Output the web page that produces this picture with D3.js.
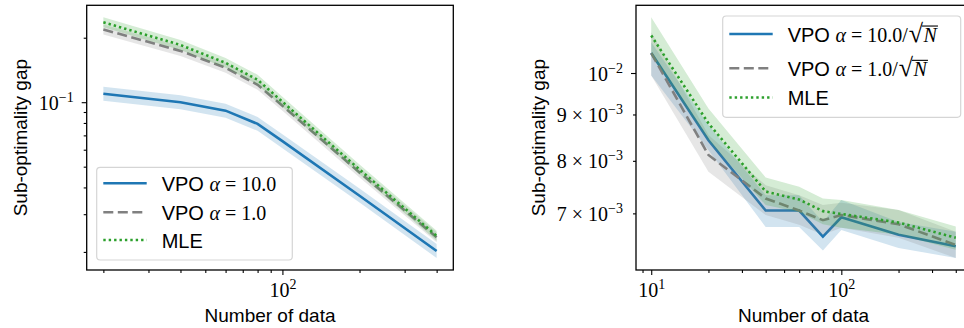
<!DOCTYPE html>
<html>
<head>
<meta charset="utf-8">
<script src="https://cdn.jsdelivr.net/npm/d3@7"></script>
<style>
  body { margin: 0; background: #fff; }
  svg { display: block; }
</style>
</head>
<body>
<svg id="chart" width="964" height="328"></svg>
<script>
// ---- data ----
// left panel: fixed alpha
var nLeft = [20, 40, 60, 80, 100, 200, 400];
var vpo10L = [0.1095, 0.100, 0.0913, 0.0792, 0.0658, 0.0366, 0.0202];
var vpo10L_lo = [0.1016, 0.0928, 0.0847, 0.0735, 0.0610, 0.0340, 0.01874];
var vpo10L_hi = [0.1180, 0.1078, 0.0984, 0.0854, 0.0709, 0.0395, 0.0218];
var vpo1L = [0.2185, 0.1736, 0.1447, 0.1206, 0.0963, 0.0470, 0.0234];
var vpo1L_lo = [0.2071, 0.1645, 0.1372, 0.1143, 0.0913, 0.0445, 0.0222];
var vpo1L_hi = [0.2305, 0.1832, 0.1527, 0.1272, 0.1016, 0.0496, 0.0247];
var mleL = [0.236, 0.185, 0.1527, 0.1273, 0.1005, 0.0485, 0.02377];
var mleL_lo = [0.2237, 0.1754, 0.1447, 0.1207, 0.0953, 0.0460, 0.02253];
var mleL_hi = [0.249, 0.195, 0.161, 0.1343, 0.106, 0.0512, 0.0251];

// right panel: alpha scaled by 1/sqrt(N)
var nRight = [10, 20, 40, 60, 80, 100, 200, 400];
var vpo10R = [0.01052, 0.00843, 0.00705, 0.00705, 0.00660, 0.00693, 0.00663, 0.00644];
var vpo10R_lo = [0.00994, 0.00822, 0.00676, 0.00676, 0.00637, 0.00671, 0.00641, 0.00625];
var vpo10R_hi = [0.01081, 0.00876, 0.00733, 0.00733, 0.00685, 0.00724, 0.00685, 0.00668];
var vpo1R = [0.01052, 0.00812, 0.00727, 0.00705, 0.00688, 0.00697, 0.00681, 0.00646];
var vpo1R_lo = [0.00994, 0.00778, 0.00697, 0.00680, 0.00663, 0.00675, 0.00658, 0.00625];
var vpo1R_hi = [0.01109, 0.00854, 0.00752, 0.00733, 0.00715, 0.00719, 0.00706, 0.00668];
var mleR = [0.0110, 0.00880, 0.00740, 0.00725, 0.00704, 0.00699, 0.00684, 0.00658];
var mleR_lo = [0.01046, 0.00843, 0.00715, 0.00702, 0.00681, 0.00675, 0.00663, 0.00638];
var mleR_hi = [0.01152, 0.00914, 0.00767, 0.00749, 0.00727, 0.00724, 0.00706, 0.00677];

var xLabel = "Number of data";
var yLabel = "Sub-optimality gap";

var BLUE = "#1f77b4", GRAY = "#808080", GREEN = "#2ca02c";
var SANS = "Liberation Sans, Arial, sans-serif";
var SERIF = "Liberation Serif, Times New Roman, serif";

var svg = d3.select("#chart");

// matplotlib style 5% margin in log space
function logPad(lo, hi) {
    var a = Math.log10(lo), b = Math.log10(hi), p = (b - a) * 0.05;
    return [Math.pow(10, a - p), Math.pow(10, b + p)];
}

function logTicks(dom) {
    var out = [];
    for (var d = Math.floor(Math.log10(dom[0])); d <= Math.ceil(Math.log10(dom[1])); d++)
        for (var k = 1; k < 10; k++) {
            var v = +(k * Math.pow(10, d)).toPrecision(6);
            if (v >= dom[0] && v <= dom[1]) out.push({ v: v, k: k, d: d });
        }
    return out;
}

function sup(d) { return (d < 0 ? "\u2212" : "") + Math.abs(d); }

// "10^d" or "k x 10^d" as tspans
function powLabel(text, t, withK) {
    text.text(null);
    text.append("tspan").text((withK ? t.k + " \u00d7 " : "") + "10");
    text.append("tspan").attr("font-size", 14).attr("dy", -8).text(sup(t.d));
}

function dashFor(s) { return s === "dash" ? "10,4.5" : s === "dot" ? "2.4,3" : null; }

function drawPanel(cfg) {
    var g = svg.append("g");
    var xDom = logPad(d3.min(cfg.n), d3.max(cfg.n));
    var yDom = logPad(d3.min(cfg.series, function (s) { return d3.min(s.lo); }),
                      d3.max(cfg.series, function (s) { return d3.max(s.hi); }));
    var x = d3.scaleLog().domain(xDom).range([cfg.x0, cfg.x1]);
    var y = d3.scaleLog().domain(yDom).range([cfg.y1, cfg.y0]);

    var line = d3.line()
        .x(function (d) { return x(d[0]); })
        .y(function (d) { return y(d[1]); });
    var area = d3.area()
        .x(function (d) { return x(d[0]); })
        .y0(function (d) { return y(d[1]); })
        .y1(function (d) { return y(d[2]); });

    cfg.series.forEach(function (s) {
        var pts = cfg.n.map(function (v, i) { return [v, s.mean[i]]; });
        var band = cfg.n.map(function (v, i) { return [v, s.lo[i], s.hi[i]]; });
        g.append("path")
            .attr("d", line(pts))
            .attr("fill", "none")
            .attr("stroke", s.color)
            .attr("stroke-width", 2.6)
            .attr("stroke-dasharray", dashFor(s.style));
        g.append("path")
            .attr("d", area(band))
            .attr("fill", s.color)
            .attr("fill-opacity", 0.2)
            .attr("stroke", "none");
    });

    // x ticks
    var xt = logTicks(xDom);
    var xMaj = xt.filter(function (t) { return t.k === 1; });
    var xMin = xt.filter(function (t) { return t.k !== 1; });
    g.append("g").attr("transform", "translate(0," + cfg.y1 + ")")
        .call(d3.axisBottom(x).tickValues(xMin.map(function (t) { return t.v; })).tickSize(3).tickFormat(""))
        .call(function (a) { a.select(".domain").remove(); });
    var gxa = g.append("g").attr("transform", "translate(0," + cfg.y1 + ")")
        .call(d3.axisBottom(x).tickValues(xMaj.map(function (t) { return t.v; })).tickSize(5).tickFormat(""));
    gxa.select(".domain").remove();
    gxa.selectAll(".tick text").data(xMaj)
        .attr("y", 27.3).attr("dy", null)
        .attr("font-family", SERIF).attr("font-size", 20).attr("fill", "#000")
        .each(function (t) { powLabel(d3.select(this), t, false); });

    // y ticks
    var yt = logTicks(yDom);
    var yMaj = yt.filter(function (t) { return t.k === 1; });
    var yMin = yt.filter(function (t) { return t.k !== 1; });
    var gy = g.append("g").attr("transform", "translate(" + cfg.x0 + ",0)");
    var gyMin = gy.append("g")
        .call(d3.axisLeft(y).tickValues(yMin.map(function (t) { return t.v; })).tickSize(3).tickFormat(""));
    gyMin.select(".domain").remove();
    if (cfg.minorLabels) {
        gyMin.selectAll(".tick text").data(yMin)
            .attr("x", -13).attr("y", 7).attr("dy", null)
            .attr("font-family", SERIF).attr("font-size", 20).attr("fill", "#000")
            .each(function (t) { powLabel(d3.select(this), t, true); });
    }
    var gyMaj = gy.append("g")
        .call(d3.axisLeft(y).tickValues(yMaj.map(function (t) { return t.v; })).tickSize(5).tickFormat(""));
    gyMaj.select(".domain").remove();
    gyMaj.selectAll(".tick text").data(yMaj)
        .attr("x", -13).attr("y", 7).attr("dy", null)
        .attr("font-family", SERIF).attr("font-size", 20).attr("fill", "#000")
        .each(function (t) { powLabel(d3.select(this), t, false); });
    g.selectAll(".tick line").attr("stroke", "#000").attr("stroke-width", 1.1);

    // spines
    g.append("rect")
        .attr("x", cfg.x0).attr("y", cfg.y0)
        .attr("width", cfg.x1 - cfg.x0).attr("height", cfg.y1 - cfg.y0)
        .attr("fill", "none").attr("stroke", "#000").attr("stroke-width", 1.3);

    // axis labels
    g.append("text")
        .attr("x", (cfg.x0 + cfg.x1) / 2).attr("y", 321.5)
        .attr("text-anchor", "middle")
        .attr("font-family", SANS).attr("font-size", 19)
        .text(xLabel);
    var bb = gy.node().getBBox();
    g.append("text")
        .attr("transform", "translate(" + (cfg.x0 + bb.x - 12) + "," + ((cfg.y0 + cfg.y1) / 2) + ") rotate(-90)")
        .attr("text-anchor", "middle")
        .attr("font-family", SANS).attr("font-size", 19)
        .text(yLabel);

    // legend
    var L = cfg.legend;
    var lg = g.append("g");
    lg.append("rect")
        .attr("x", L.x).attr("y", L.y).attr("width", L.w).attr("height", L.h)
        .attr("rx", 3.5)
        .attr("fill", "#fff").attr("fill-opacity", 0.8)
        .attr("stroke", "#d5d5d5").attr("stroke-width", 1.2);
    cfg.series.forEach(function (s, i) {
        var ry = L.rows[i];
        lg.append("line")
            .attr("x1", L.x + 6.6).attr("x2", L.x + 50)
            .attr("y1", ry).attr("y2", ry)
            .attr("stroke", s.color).attr("stroke-width", 2.6)
            .attr("stroke-dasharray", dashFor(s.style));
        var txt = lg.append("text")
            .attr("x", L.x + 65).attr("y", ry + 7.5)
            .attr("font-size", 20).attr("fill", "#000");
        var idx = 0, over = null;
        s.label.forEach(function (p) {
            txt.append("tspan")
                .attr("font-family", p.serif ? SERIF : SANS)
                .attr("font-style", p.it ? "italic" : null)
                .attr("font-size", p.size || null)
                .attr("dx", p.dx || null)
                .text(p.t);
            if (p.root) over = { a: idx, b: idx + p.t.length - 1 };
            idx += p.t.length;
        });
        if (over) {
            var tn = txt.node();
            var e0 = tn.getExtentOfChar(over.a - 1);   // the radical sign
            var e1 = tn.getExtentOfChar(over.b);
            var top = e0.y + 0.26 * e0.height;
            lg.append("line")
                .attr("x1", e0.x + e0.width - 1.2).attr("x2", e1.x + e1.width + 1)
                .attr("y1", top).attr("y2", top)
                .attr("stroke", "#000").attr("stroke-width", 1.1);
        }
    });
}

drawPanel({
    x0: 86.7, x1: 453.3, y0: 5.3, y1: 270,
    n: nLeft,
    minorLabels: false,
    series: [
        { mean: vpo10L, lo: vpo10L_lo, hi: vpo10L_hi, color: BLUE, style: "solid",
          label: [{ t: "VPO " }, { t: "\u03b1", serif: true, it: true }, { t: " = 10.0", serif: true }] },
        { mean: vpo1L, lo: vpo1L_lo, hi: vpo1L_hi, color: GRAY, style: "dash",
          label: [{ t: "VPO " }, { t: "\u03b1", serif: true, it: true }, { t: " = 1.0", serif: true }] },
        { mean: mleL, lo: mleL_lo, hi: mleL_hi, color: GREEN, style: "dot",
          label: [{ t: "MLE" }] }
    ],
    legend: { x: 96.7, y: 167.3, w: 195.6, h: 92.7, rows: [183.3, 212.3, 240] }
});

drawPanel({
    x0: 636, x1: 971, y0: 5.3, y1: 270,
    n: nRight,
    minorLabels: true,
    series: [
        { mean: vpo10R, lo: vpo10R_lo, hi: vpo10R_hi, color: BLUE, style: "solid",
          label: [{ t: "VPO " }, { t: "\u03b1", serif: true, it: true }, { t: " = 10.0/", serif: true },
                  { t: "\u221a", serif: true, size: 26, dx: 1 },
                  { t: "N", serif: true, it: true, root: true, dx: 0.5 }] },
        { mean: vpo1R, lo: vpo1R_lo, hi: vpo1R_hi, color: GRAY, style: "dash",
          label: [{ t: "VPO " }, { t: "\u03b1", serif: true, it: true }, { t: " = 1.0/", serif: true },
                  { t: "\u221a", serif: true, size: 26, dx: 1 },
                  { t: "N", serif: true, it: true, root: true, dx: 0.5 }] },
        { mean: mleR, lo: mleR_lo, hi: mleR_hi, color: GREEN, style: "dot",
          label: [{ t: "MLE" }] }
    ],
    legend: { x: 722.7, y: 16, w: 238, h: 101.3, rows: [34, 68.3, 97.5] }
});
</script>
</body>
</html>
